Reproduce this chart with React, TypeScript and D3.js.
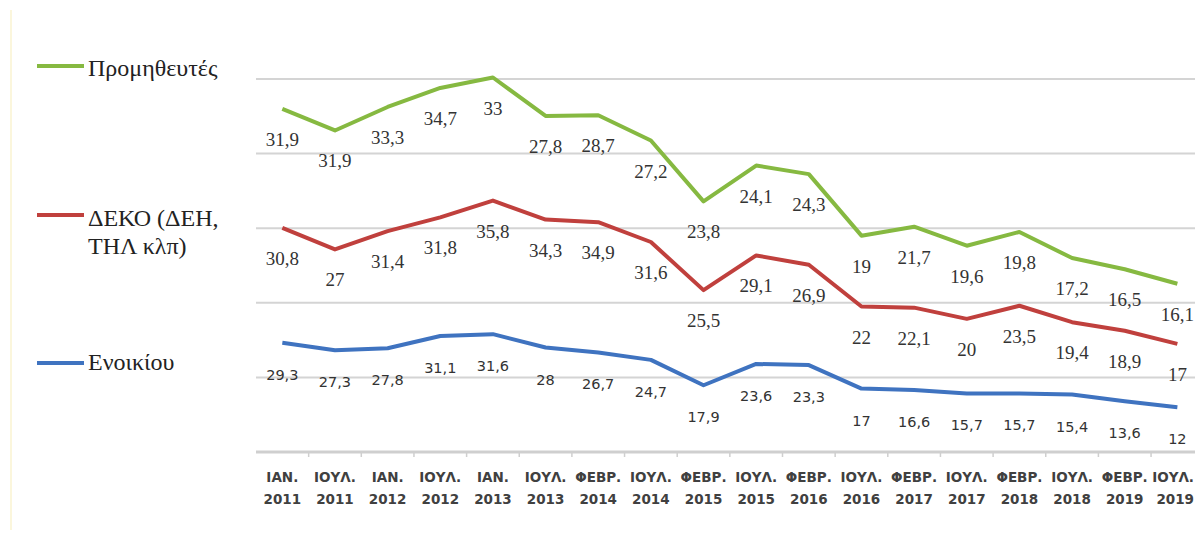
import React from "react";
import * as d3 from "d3";

const categories = [
  ["ΙΑΝ.", "2011"], ["ΙΟΥΛ.", "2011"], ["ΙΑΝ.", "2012"], ["ΙΟΥΛ.", "2012"],
  ["ΙΑΝ.", "2013"], ["ΙΟΥΛ.", "2013"], ["ΦΕΒΡ.", "2014"], ["ΙΟΥΛ.", "2014"],
  ["ΦΕΒΡ.", "2015"], ["ΙΟΥΛ.", "2015"], ["ΦΕΒΡ.", "2016"], ["ΙΟΥΛ.", "2016"],
  ["ΦΕΒΡ.", "2017"], ["ΙΟΥΛ.", "2017"], ["ΦΕΒΡ.", "2018"], ["ΙΟΥΛ.", "2018"],
  ["ΦΕΒΡ.", "2019"], ["ΙΟΥΛ.", "2019"],
];

const rent = [29.3, 27.3, 27.8, 31.1, 31.6, 28, 26.7, 24.7, 17.9, 23.6, 23.3, 17, 16.6, 15.7, 15.7, 15.4, 13.6, 12];
const deko = [30.8, 27, 31.4, 31.8, 35.8, 34.3, 34.9, 31.6, 25.5, 29.1, 26.9, 22, 22.1, 20, 23.5, 19.4, 18.9, 17];
const suppliers = [31.9, 31.9, 33.3, 34.7, 33, 27.8, 28.7, 27.2, 23.8, 24.1, 24.3, 19, 21.7, 19.6, 19.8, 17.2, 16.5, 16.1];

const yTicks = [0, 20, 40, 60, 80, 100];

const seriesNames = ["Ενοικίου", "ΔΕΚΟ (ΔΕΗ, ΤΗΛ κλπ)", "Προμηθευτές"];

const SERIF = "Liberation Serif";
const SANS = "DejaVu Sans";

export default function App() {
  const W = 1195, H = 536;
  const x = d3.scaleBand<number>().domain(d3.range(categories.length)).range([256, 256 + 52.65 * categories.length]);
  const y = d3.scaleLinear().domain([0, 100]).range([452, 79]);

  const rows = categories.map((_, i) => ({ rent: rent[i], deko: deko[i], sup: suppliers[i] }));
  const stacked = d3.stack<any>().keys(["rent", "deko", "sup"])(rows);
  const colors = ["#3f73c0", "#c0403d", "#86b941"];
  const raw = [rent, deko, suppliers];
  const line = d3.line<[number, number]>().x((_, i) => x(i)! + x.bandwidth() / 2).y((d) => y(d[1]));
  const fmt = (v: number) => String(v).replace(".", ",");
  const last = categories.length - 1;

  return (
    <svg width={W} height={H} style={{ position: "absolute", left: 0, top: 0, background: "#fff" }}>
      <line x1={11} x2={11} y1={10} y2={530} stroke="#fbf6dc" strokeWidth={2} />
      {yTicks.slice(1).map((t) => (
        <line key={t} x1={256} x2={W} y1={y(t)} y2={y(t)} stroke="#d4d4d4" strokeWidth={2} />
      ))}
      <line x1={256} x2={W} y1={y(0)} y2={y(0)} stroke="#cfcfcf" strokeWidth={3} />
      {categories.map((_, i) => (
        <line key={i} x1={x(i)! + x.bandwidth()} x2={x(i)! + x.bandwidth()} y1={y(0)} y2={y(0) + 5} stroke="#cfcfcf" strokeWidth={1.5} />
      ))}
      {stacked.map((s, k) => (
        <path key={k} d={line(s as any) || ""} fill="none" stroke={colors[k]} strokeWidth={4} strokeLinejoin="round" />
      ))}
      {stacked.map((s, k) =>
        s.map((d, i) => (
          <text
            key={k + "-" + i}
            x={x(i)! + x.bandwidth() / 2}
            y={y(d[1]) + 37}
            textAnchor="middle"
            style={{ fontFamily: k === 0 ? SANS : SERIF, fontSize: k === 0 ? 14.5 : 19 }}
            fill="#333"
          >
            {fmt(raw[k][i])}
          </text>
        ))
      )}
      {categories.map((c, i) => {
        const cx = i === last ? 1194 : x(i)! + x.bandwidth() / 2;
        return (
          <text key={i} textAnchor={i === last ? "end" : "middle"} style={{ fontFamily: SANS, fontSize: 13.5, fontWeight: 600 }} fill="#404040">
            <tspan x={cx} y={482}>{c[0]}</tspan>
            <tspan x={cx} y={504}>{c[1]}</tspan>
          </text>
        );
      })}
      {/* legend */}
      <line x1={37} x2={84} y1={66} y2={66} stroke={colors[2]} strokeWidth={4} />
      <text x={88} y={76} style={{ fontFamily: SERIF, fontSize: 24 }} fill="#222">{seriesNames[2]}</text>
      <line x1={37} x2={84} y1={215} y2={215} stroke={colors[1]} strokeWidth={4} />
      <text style={{ fontFamily: SERIF, fontSize: 24 }} fill="#222">
        <tspan x={88} y={226}>ΔΕΚΟ (ΔΕΗ,</tspan>
        <tspan x={88} y={254}>ΤΗΛ κλπ)</tspan>
      </text>
      <line x1={37} x2={84} y1={363} y2={363} stroke={colors[0]} strokeWidth={4} />
      <text x={88} y={370} style={{ fontFamily: SERIF, fontSize: 24 }} fill="#222">{seriesNames[0]}</text>
    </svg>
  );
}
